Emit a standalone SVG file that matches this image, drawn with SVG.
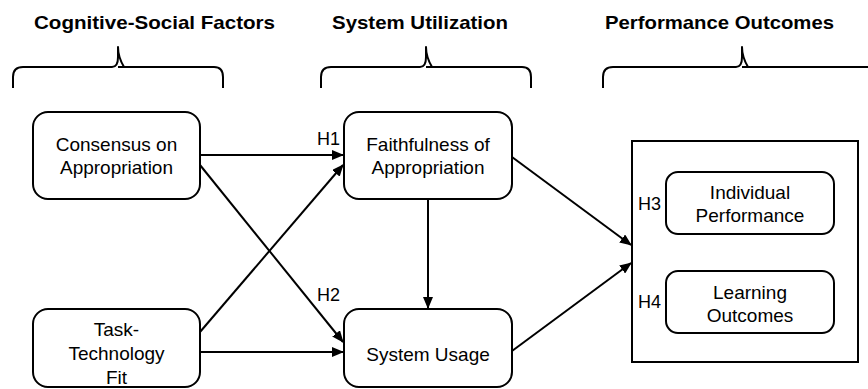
<svg xmlns="http://www.w3.org/2000/svg" width="868" height="389" viewBox="0 0 868 389">
<style>
.hdr{font-family:"Liberation Sans",Arial,sans-serif;font-weight:bold;font-size:18.5px;fill:#000}
.t{font-family:"Liberation Sans",Arial,sans-serif;font-size:19px;fill:#000;text-anchor:middle}
.h{font-family:"Liberation Sans",Arial,sans-serif;font-size:18px;fill:#000}
.box{fill:#fff;stroke:#000;stroke-width:2}
.ln{fill:none;stroke:#000;stroke-width:2}
.br{fill:none;stroke:#000;stroke-width:2;stroke-linejoin:round}
</style>
<defs>
<marker id="ah" markerUnits="userSpaceOnUse" markerWidth="12" markerHeight="10" refX="11" refY="5" orient="auto">
<path d="M0,0 L12,5 L0,10 z" fill="#000"/>
</marker>
</defs>
<rect width="868" height="389" fill="#fff"/>
<g id="headers">
<text class="hdr" x="34" y="29" textLength="241" lengthAdjust="spacingAndGlyphs">Cognitive-Social Factors</text>
<text class="hdr" x="332" y="29" textLength="176" lengthAdjust="spacingAndGlyphs">System  Utilization</text>
<text class="hdr" x="605" y="29" textLength="229" lengthAdjust="spacingAndGlyphs">Performance Outcomes</text>
</g>
<g id="braces">
<path class="br" d="M13,88 L13,77 Q13,67 23,67 L112,67 Q118,67 118,57 L118,47 Q118,57 124,67 M118,67 L214,67 Q223,67 223,77 L223,88"/>
<path class="br" d="M321,88 L321,77 Q321,67 331,67 L420,67 Q426,67 426,57 L426,47 Q426,57 432,67 M426,67 L522,67 Q531,67 531,77 L531,88"/>
<path class="br" d="M603,88 L603,77 Q603,67 613,67 L736,67 Q742,67 742,57 L742,47 Q742,57 748,67 M742,67 L872,67"/>
</g>
<g id="connectors">
<line class="ln" x1="200" y1="155" x2="343" y2="155" marker-end="url(#ah)"/>
<line class="ln" x1="200" y1="165" x2="343" y2="342" marker-end="url(#ah)"/>
<line class="ln" x1="200" y1="332" x2="343" y2="165" marker-end="url(#ah)"/>
<line class="ln" x1="200" y1="352" x2="343" y2="352" marker-end="url(#ah)"/>
<line class="ln" x1="428" y1="199" x2="428" y2="308" marker-end="url(#ah)"/>
<line class="ln" x1="512" y1="157" x2="631" y2="245" marker-end="url(#ah)"/>
<line class="ln" x1="512" y1="351" x2="631" y2="263" marker-end="url(#ah)"/>
<text class="h" x="317" y="145">H1</text>
<text class="h" x="317" y="301">H2</text>
</g>
<g id="consensus">
<rect class="box" x="33" y="112" width="167" height="87" rx="15"/>
<text class="t" x="116.5" y="151">Consensus on</text>
<text class="t" x="116.5" y="174">Appropriation</text>
</g>
<g id="ttf">
<rect class="box" x="33" y="309" width="167" height="78" rx="15"/>
<text class="t" x="116.5" y="336">Task-</text>
<text class="t" x="116.5" y="360">Technology</text>
<text class="t" x="116.5" y="383.5">Fit</text>
</g>
<g id="faithfulness">
<rect class="box" x="344" y="112" width="168" height="87" rx="15"/>
<text class="t" x="428" y="151">Faithfulness of</text>
<text class="t" x="428" y="174">Appropriation</text>
</g>
<g id="usage">
<rect class="box" x="344" y="309" width="168" height="78" rx="15"/>
<text class="t" x="428" y="360.5">System Usage</text>
</g>
<g id="outcomes">
<rect class="box" x="632" y="141" width="226" height="221"/>
<text class="h" x="638" y="210">H3</text>
<text class="h" x="638" y="308">H4</text>
</g>
<g id="individual">
<rect class="box" x="666" y="172" width="168" height="62" rx="12"/>
<text class="t" x="750" y="199">Individual</text>
<text class="t" x="750" y="222">Performance</text>
</g>
<g id="learning">
<rect class="box" x="666" y="271" width="168" height="62" rx="12"/>
<text class="t" x="750" y="298.5">Learning</text>
<text class="t" x="750" y="321.5">Outcomes</text>
</g>
</svg>
